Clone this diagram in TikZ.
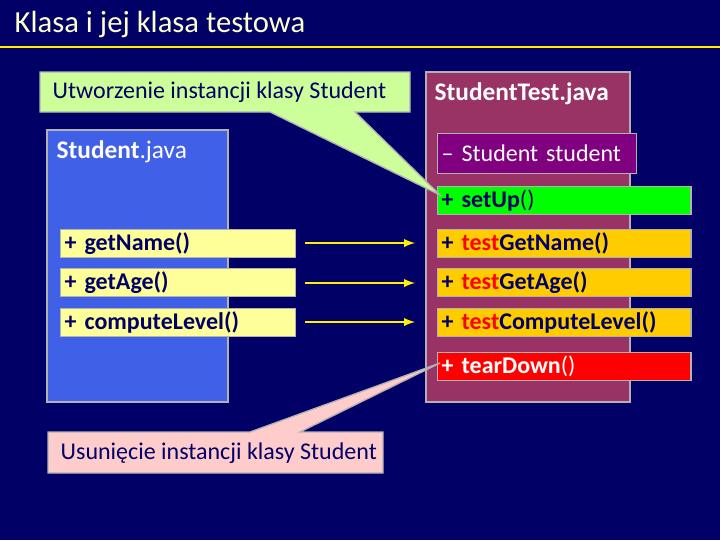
\documentclass[tikz,border=0pt]{standalone}
\usepackage{fontspec}
\setmainfont{Carlito}
\usetikzlibrary{positioning}
\definecolor{bgnavy}{RGB}{0,0,102}
\definecolor{titlecol}{RGB}{255,255,204}
\definecolor{classblue}{RGB}{64,96,232}
\definecolor{testmaroon}{RGB}{153,51,102}
\definecolor{fieldpurple}{RGB}{128,0,128}
\definecolor{methyellow}{RGB}{255,255,153}
\definecolor{methorange}{RGB}{255,204,0}
\definecolor{callgreen}{RGB}{204,255,153}
\definecolor{callpink}{RGB}{255,204,204}
\tikzset{
  px/.style={x=0.75pt,y=-0.75pt},
  method/.style={draw=gray!60,line width=1pt,anchor=north west,inner xsep=3pt,inner ysep=0pt,
    minimum height=21pt,align=left,font=\fontsize{18}{18}\selectfont\bfseries},
  link/.style={yellow,line width=1.8pt,-latex}
}
\begin{document}
\begin{tikzpicture}[px]
    \fill[bgnavy] (0,0) rectangle (720,540);
    \useasboundingbox (0,0) rectangle (720,540);
    \node[anchor=west,text=titlecol,font=\fontsize{23}{23}\selectfont] (title) at (10,24) {Klasa i jej klasa testowa};
    \draw[yellow,line width=2pt] (0,47) -- (720,47);
    % class and test class
    \draw[gray!60,line width=1pt,fill=classblue] (47,130) rectangle (228,402);
    \node[anchor=north west,text=white,font=\fontsize{19}{22}\selectfont,align=left] (cls) at (52,136) {\textbf{Student}.java};
    \draw[gray!60,line width=1pt,fill=testmaroon] (426,72) rectangle (630,402);
    \node[anchor=north west,text=white,font=\fontsize{19}{22}\selectfont\bfseries] (tcls) at (430,78) {StudentTest.java};
    \node[method,fill=fieldpurple,text=white,text width=143pt,minimum height=30pt,font=\fontsize{18}{18}\selectfont] (field) at (437,133) {– Student student};
    % methods
    \node[method,fill=methyellow,text=bgnavy,text width=170pt] (getname) at (60,229) {+ getName()};
    \node[method,fill=methyellow,text=bgnavy,text width=170pt] (getage) at (60,268) {+ getAge()};
    \node[method,fill=methyellow,text=bgnavy,text width=170pt] (getlevel) at (60,308) {+ computeLevel()};
    \node[method,fill=green,text=bgnavy,text width=184pt] (setup) at (437,186) {+ setUp\mdseries()};
    \node[method,fill=methorange,text=bgnavy,text width=184pt] (tname) at (437,229) {+ \textcolor{red}{test}GetName()};
    \node[method,fill=methorange,text=bgnavy,text width=184pt] (tage) at (437,268) {+ \textcolor{red}{test}GetAge()};
    \node[method,fill=methorange,text=bgnavy,text width=184pt] (tlevel) at (437,308) {+ \textcolor{red}{test}ComputeLevel()};
    \node[method,fill=red,text=white,text width=184pt] (teardown) at (437,352) {+ tearDown\mdseries()};
    \draw[link] (305,243) -- (415,243);
    \draw[link] (305,283) -- (415,283);
    \draw[link] (305,322) -- (415,322);
    % callouts
    \draw[gray!60,line width=1pt,fill=callgreen] (40,72) -- (410,72) -- (410,112) -- (355,112)
        -- (440,195) -- (270,112) -- (40,112) -- cycle;
    \node[anchor=west,text=bgnavy,font=\fontsize{18}{18}\selectfont] (create) at (48,92) {Utworzenie instancji klasy Student};
    \draw[gray!60,line width=1pt,fill=callpink] (48,432) -- (250,432) -- (440,363) -- (300,432)
        -- (383,432) -- (383,473) -- (48,473) -- cycle;
    \node[anchor=west,text=bgnavy,font=\fontsize{18}{18}\selectfont] (delete) at (56,453) {Usunięcie instancji klasy Student};
\end{tikzpicture}
\end{document}
